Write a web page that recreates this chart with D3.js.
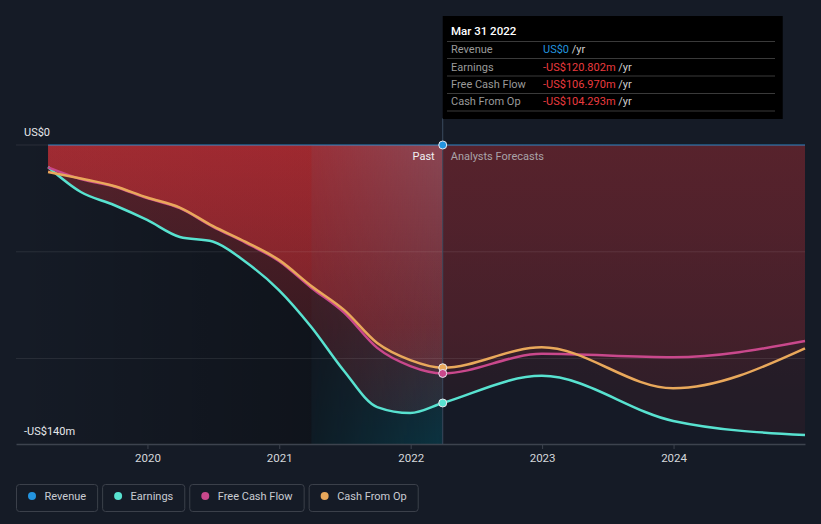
<!DOCTYPE html>
<html>
<head>
<meta charset="utf-8">
<script src="https://cdn.jsdelivr.net/npm/d3@7"></script>
<style>
  html, body { margin: 0; padding: 0; background: #151b26; }
  svg { display: block; font-family: Roboto, "Noto Sans", sans-serif; }
</style>
</head>
<body>
<svg id="chart" width="821" height="524"></svg>
<script>
// ---------- DATA ----------
const pastDates = ["2019-03-31","2019-06-30","2019-09-30","2019-12-31","2020-03-31","2020-06-30",
  "2020-09-30","2020-12-31","2021-03-31","2021-06-30","2021-09-30","2021-12-31","2022-03-31"];
const forecastDates = ["2022-12-31","2023-12-31","2024-12-31"];

const revenuePast = [0,0,0,0,0,0,0,0,0,0,0,0,0];
const revenueForecast = [0,0,0];
const earningsPast = [-10.3,-22.0,-28.1,-35.1,-43.1,-45.2,-54.8,-67.9,-85.2,-105.8,-122.7,-125.5,-120.802];
const earningsForecast = [-108.1,-129.2,-135.8];
const fcfPast = [-10.5,-16.0,-19.4,-24.9,-29.6,-38.2,-45.8,-54.3,-66.8,-78.5,-95.0,-103.5,-106.970];
const fcfForecast = [-97.8,-99.4,-91.8];
const cfoPast = [-12.6,-15.7,-19.2,-24.6,-29.3,-37.9,-45.4,-53.8,-66.0,-77.2,-92.7,-100.7,-104.293];
const cfoForecast = [-94.7,-113.9,-95.2];

const yearTicks = ["2020","2021","2022","2023","2024"];
const yTickLabels = ["US$0","-US$140m"];
const yTickValues = [0,-140];
const gridValues = [0,-50,-100];

const seriesNames = ["Revenue","Earnings","Free Cash Flow","Cash From Op"];
const seriesColors = ["#2394df","#58e2d0","#c9488c","#e9a85b"];
const tooltipDate = "Mar 31 2022";
const tooltipValues = ["US$0","-US$120.802m","-US$106.970m","-US$104.293m"];

// ---------- SETUP ----------
const parse = d3.timeParse("%Y-%m-%d");
const allDates = pastDates.concat(forecastDates).map(parse);
const mk = (p, f) => p.concat(f).map((v, i) => ({date: allDates[i], value: v}));
const series = [
  mk(revenuePast, revenueForecast),
  mk(earningsPast, earningsForecast),
  mk(fcfPast, fcfForecast),
  mk(cfoPast, cfoForecast)
];

const svg = d3.select("#chart");
const x = d3.scaleTime().domain([parse("2019-01-01"), parse("2024-12-31")]).range([16, 805]);
const y = d3.scaleLinear().domain([-140, 0]).range([444, 145]);

const nowDate = parse("2022-03-31");
const bandStart = parse("2021-03-31");
const xNow = x(nowDate), xBand = x(bandStart);
const xEnd = x(allDates[allDates.length - 1]);

const defs = svg.append("defs");
const g1 = defs.append("linearGradient").attr("id", "neg").attr("gradientUnits", "userSpaceOnUse")
  .attr("x1", 0).attr("y1", y(0)).attr("x2", 0).attr("y2", y(-140));
g1.append("stop").attr("offset", 0).attr("stop-color", "#dc3238").attr("stop-opacity", 0.33);
g1.append("stop").attr("offset", 1).attr("stop-color", "#dc3238").attr("stop-opacity", 0.13);
const g2 = defs.append("linearGradient").attr("id", "pastDark").attr("x1", 0).attr("x2", 1).attr("y1", 0).attr("y2", 0);
g2.append("stop").attr("offset", 0).attr("stop-color", "#000").attr("stop-opacity", 0.0);
g2.append("stop").attr("offset", 1).attr("stop-color", "#000").attr("stop-opacity", 0.28);
const g3 = defs.append("linearGradient").attr("id", "bandCol").attr("x1", 0).attr("x2", 0).attr("y1", 0).attr("y2", 1);
g3.append("stop").attr("offset", 0).attr("stop-color", "#6a7890").attr("stop-opacity", 0.38);
g3.append("stop").attr("offset", 0.6).attr("stop-color", "#3a5a70").attr("stop-opacity", 0.22);
g3.append("stop").attr("offset", 1).attr("stop-color", "#008aa8").attr("stop-opacity", 0.26);
const g4 = defs.append("linearGradient").attr("id", "bandMaskGrad").attr("x1", 0).attr("x2", 1).attr("y1", 0).attr("y2", 0);
g4.append("stop").attr("offset", 0).attr("stop-color", "#fff").attr("stop-opacity", 0.25);
g4.append("stop").attr("offset", 1).attr("stop-color", "#fff").attr("stop-opacity", 1);
defs.append("mask").attr("id", "bandMask")
  .append("rect").attr("x", xBand).attr("y", y(0)).attr("width", xNow - xBand).attr("height", y(-140) - y(0))
  .attr("fill", "url(#bandMaskGrad)");

// past darkening
svg.append("rect").attr("x", 16).attr("y", y(0)).attr("width", xBand - 16).attr("height", y(-140) - y(0))
  .attr("fill", "url(#pastDark)");
svg.append("rect").attr("x", xBand).attr("y", y(0)).attr("width", xNow - xBand).attr("height", y(-140) - y(0))
  .attr("fill", "#000").attr("opacity", 0.25);

// areas
const area = d3.area().x(d => x(d.date)).y0(y(0)).y1(d => y(d.value)).curve(d3.curveMonotoneX);
[1, 2, 3].forEach(i => {
  svg.append("path").datum(series[i]).attr("d", area).attr("fill", "url(#neg)");
});

// highlight band
svg.append("rect").attr("x", xBand).attr("y", y(0)).attr("width", xNow - xBand).attr("height", y(-140) - y(0))
  .attr("fill", "url(#bandCol)").attr("mask", "url(#bandMask)");

// forecast dim overlay
svg.append("rect").attr("x", xNow).attr("y", y(0)).attr("width", xEnd - xNow).attr("height", y(-140) - y(0))
  .attr("fill", "#151b26").attr("opacity", 0.52);

// gridlines
svg.append("g").selectAll("line").data(gridValues).join("line")
  .attr("x1", 16).attr("x2", 805).attr("y1", d => y(d)).attr("y2", d => y(d))
  .attr("stroke", "#ffffff").attr("stroke-opacity", 0.09).attr("stroke-width", 1);

// x axis
const xAxis = d3.axisBottom(x)
  .tickValues(yearTicks.map(t => parse(t + "-01-01")))
  .tickFormat(d3.timeFormat("%Y")).tickSize(5).tickSizeOuter(0);
const gx = svg.append("g").attr("transform", `translate(0,${y(-140)})`).call(xAxis);
gx.select(".domain").attr("stroke", "#3d434e").attr("stroke-width", 1.5);
gx.selectAll(".tick line").attr("stroke", "#3d434e");
gx.selectAll(".tick text").attr("fill", "#d5d8dc").attr("font-size", 11.5).attr("dy", "0.9em")
  .attr("font-family", "Roboto, sans-serif");

// y labels
svg.append("g").selectAll("text").data(yTickValues).join("text")
  .attr("x", 24).attr("y", d => y(d) - 9)
  .text((d, i) => yTickLabels[i])
  .attr("fill", "#e6e8eb").attr("font-size", 11);

// now vertical line
svg.append("line").attr("x1", xNow).attr("x2", xNow).attr("y1", 118).attr("y2", y(-140))
  .attr("stroke", "#3a4a5e").attr("stroke-width", 1);

// lines
const line = d3.line().x(d => x(d.date)).y(d => y(d.value)).curve(d3.curveMonotoneX);
svg.append("path").datum(series[0]).attr("d", line).attr("fill", "none")
  .attr("stroke", seriesColors[0]).attr("stroke-opacity", 0.4).attr("stroke-width", 2);
[1, 2, 3].forEach(i => {
  svg.append("path").datum(series[i]).attr("d", line).attr("fill", "none")
    .attr("stroke", seriesColors[i]).attr("stroke-width", 2.5);
});

// past / forecast labels
svg.append("text").attr("x", xNow - 8).attr("y", 160).attr("text-anchor", "end")
  .attr("fill", "#f0f0f2").attr("font-size", 11).text("Past");
svg.append("text").attr("x", xNow + 8).attr("y", 160)
  .attr("fill", "#a9a3a8").attr("font-size", 11).text("Analysts Forecasts");

// dots at now
const nowIdx = pastDates.length - 1;
[3, 2, 1, 0].forEach(i => {
  const d = series[i][nowIdx];
  svg.append("circle").attr("cx", x(d.date)).attr("cy", y(d.value)).attr("r", 4)
    .attr("fill", seriesColors[i]).attr("stroke", "#e8e8ee").attr("stroke-width", 1);
});

// tooltip
const tt = svg.append("g");
tt.append("rect").attr("x", xNow).attr("y", 16).attr("width", 340).attr("height", 103).attr("fill", "#000");
tt.append("text").attr("x", 451).attr("y", 35).attr("fill", "#ffffff").attr("font-size", 11.5)
  .attr("font-weight", 500).text(tooltipDate);
const sepY = [41.5, 58.5, 76, 93.5, 111];
tt.selectAll("line.sep").data(sepY).join("line").attr("class", "sep")
  .attr("x1", 447).attr("x2", 775).attr("y1", d => d).attr("y2", d => d)
  .attr("stroke", "#3a3a3a").attr("stroke-width", 1);
const rowY = [53, 70.5, 88, 105];
seriesNames.forEach((n, i) => {
  tt.append("text").attr("x", 451).attr("y", rowY[i]).attr("fill", "#9a9a9a").attr("font-size", 11).text(n);
  const t = tt.append("text").attr("x", 543).attr("y", rowY[i]).attr("font-size", 11);
  t.append("tspan").attr("fill", i === 0 ? "#2394df" : "#ea3b3f").text(tooltipValues[i]);
  t.append("tspan").attr("fill", "#cfcfcf").text(" /yr");
});

// legend
const lg = svg.append("g");
let lx = 16.5;
seriesNames.forEach((n, i) => {
  const g = lg.append("g");
  const txt = g.append("text").attr("x", lx + 28).attr("y", 500).attr("fill", "#c9ccd2")
    .attr("font-size", 11).text(n);
  const w = txt.node().getComputedTextLength();
  const bw = 28 + w + 11.5;
  g.insert("rect", "text").attr("x", lx).attr("y", 484.5).attr("width", bw).attr("height", 27)
    .attr("rx", 3).attr("fill", "none").attr("stroke", "#3b404a").attr("stroke-width", 1);
  g.append("circle").attr("cx", lx + 15.5).attr("cy", 496).attr("r", 4).attr("fill", seriesColors[i]);
  lx += bw + 5;
});
</script>
</body>
</html>
